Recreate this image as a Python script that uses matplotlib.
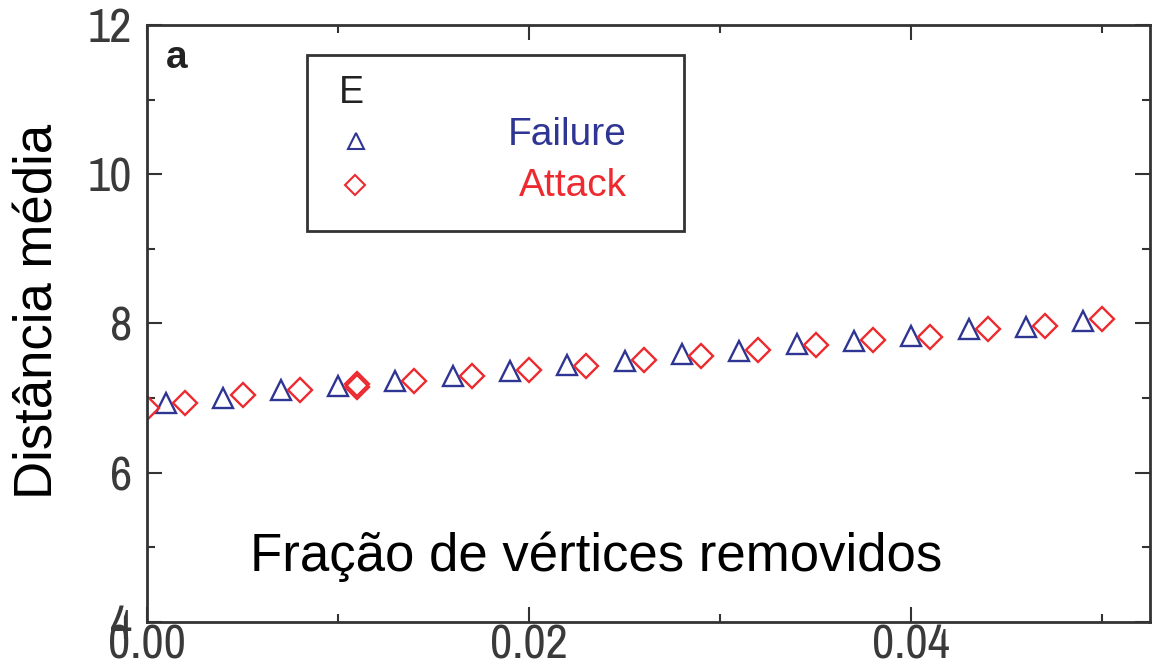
import numpy as np
import matplotlib
matplotlib.use('Agg')
import matplotlib.pyplot as plt
from matplotlib import font_manager
from matplotlib.patches import Rectangle
from matplotlib.ticker import MultipleLocator, FormatStrFormatter

plt.rcParams['font.family'] = ['Liberation Sans', 'DejaVu Sans']

# data
failure_x = [0.001, 0.004, 0.007, 0.010, 0.013, 0.016, 0.019, 0.022, 0.025,
             0.028, 0.031, 0.034, 0.037, 0.040, 0.043, 0.046, 0.049]
failure_y = [6.94, 7.00, 7.11, 7.16, 7.23, 7.30, 7.36, 7.44, 7.50,
             7.59, 7.63, 7.73, 7.77, 7.83, 7.93, 7.95, 8.03]
attack_x = [0.000, 0.002, 0.005, 0.008, 0.011, 0.011, 0.014, 0.017, 0.020, 0.023,
            0.026, 0.029, 0.032, 0.035, 0.038, 0.041, 0.044, 0.047, 0.050]
attack_y = [6.87, 6.94, 7.04, 7.11, 7.19, 7.15, 7.23, 7.30, 7.38, 7.43,
            7.51, 7.57, 7.65, 7.71, 7.78, 7.82, 7.93, 7.97, 8.06]

blue = '#2f3592'
red = '#ec2a2f'
axcol = '#333333'

names = sorted({f.name for f in font_manager.fontManager.ttflist})
narrow = [n for n in names if 'Narrow' in n or 'Condensed' in n]

fig = plt.figure(figsize=(11.55, 6.66), dpi=100)
ax = fig.add_axes([0.1273, 0.0661, 0.8684, 0.8964])

ax.plot(failure_x, failure_y, linestyle='none', marker='^', markersize=14,
        markerfacecolor='none', markeredgecolor=blue, markeredgewidth=1.7)
ax.plot(attack_x, attack_y, linestyle='none', marker='D', markersize=12,
        markerfacecolor='none', markeredgecolor=red, markeredgewidth=1.7)

ax.set_xlim(0, 0.0525)
ax.set_ylim(4, 12)
ax.xaxis.set_major_locator(MultipleLocator(0.02))
ax.xaxis.set_minor_locator(MultipleLocator(0.01))
ax.yaxis.set_major_locator(MultipleLocator(2))
ax.yaxis.set_minor_locator(MultipleLocator(1))
ax.xaxis.set_major_formatter(FormatStrFormatter('%.2f'))

for s in ['top', 'bottom', 'left', 'right']:
    ax.spines[s].set_color(axcol)
    ax.spines[s].set_linewidth(2)
ax.tick_params(which='both', direction='in', top=True, right=True, color=axcol, width=1.5)
ax.tick_params(which='major', length=11)
ax.tick_params(which='minor', length=6)
ax.tick_params(axis='y', pad=11)
ax.tick_params(axis='x', pad=1)
tick_family = narrow[:1] + ['Liberation Sans', 'DejaVu Sans']
for lab in ax.get_xticklabels() + ax.get_yticklabels():
    lab.set_family(tick_family)
    lab.set_stretch('condensed')
    lab.set_fontsize(35)
    lab.set_color('#3a3a3a')

ax.set_ylabel('Distância média', fontsize=38)
ax.yaxis.set_label_coords(-0.083, 0.52)
ax.text(0.448, 0.109, 'Fração de vértices removidos', transform=ax.transAxes,
        ha='center', va='center', fontsize=38)
ax.text(0.019, 0.945, 'a', transform=ax.transAxes, ha='left', va='center',
        fontsize=28, fontweight='bold', color='#222222')

# legend box
ax.add_patch(Rectangle((0.159, 0.655), 0.376, 0.295, transform=ax.transAxes,
                       fill=False, edgecolor=axcol, linewidth=2))
ax.text(0.191, 0.886, 'E', transform=ax.transAxes, ha='left', va='center',
        fontsize=27, color='#222222')
ax.plot([0.208], [0.806], transform=ax.transAxes, marker='^', markersize=12,
        markerfacecolor='none', markeredgecolor=blue, markeredgewidth=1.5)
ax.plot([0.207], [0.732], transform=ax.transAxes, marker='D', markersize=10,
        markerfacecolor='none', markeredgecolor=red, markeredgewidth=1.5)
ax.text(0.419, 0.816, 'Failure', transform=ax.transAxes, ha='center', va='center',
        fontsize=28, color=blue)
ax.text(0.425, 0.731, 'Attack', transform=ax.transAxes, ha='center', va='center',
        fontsize=28, color=red)

fig.savefig('out.png', dpi=100)
